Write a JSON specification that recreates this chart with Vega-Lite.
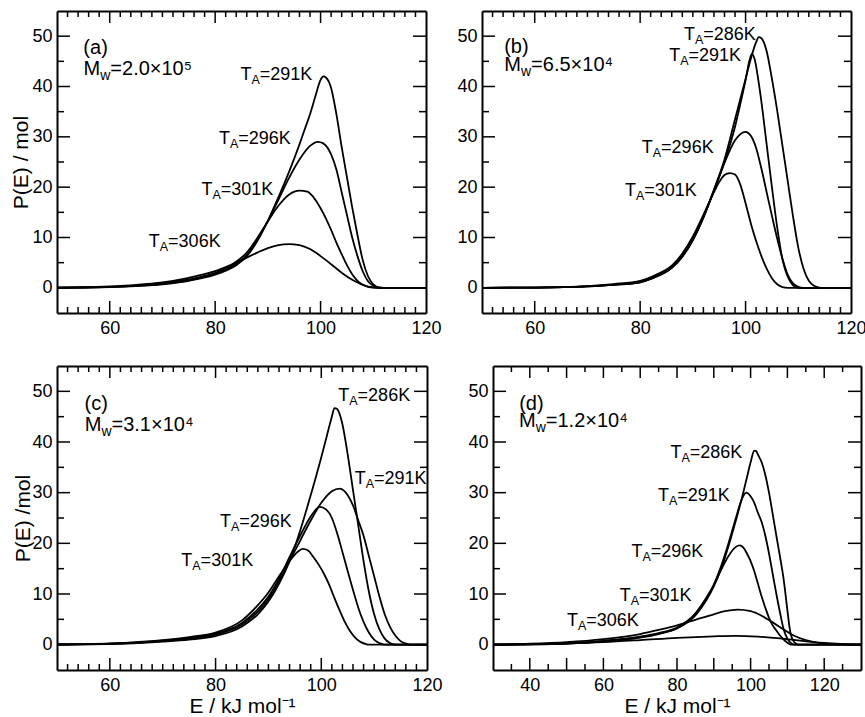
{
"$schema": "https://vega.github.io/schema/vega-lite/v6.json",
"padding": {"left": 10, "top": 10, "right": 0, "bottom": 0},
"config": {
  "font": "Liberation Sans",
  "view": {"stroke": null},
  "axis": {"domainColor": "black", "domainWidth": 2, "labelColor": "black", "labelFontSize": 18, "labelFont": "Liberation Sans", "titleFont": "Liberation Sans", "titleFontSize": 21, "titleFontWeight": "normal", "titleColor": "black", "grid": false, "ticks": false, "labelOverlap": false, "labelFlush": false, "labelBound": false},
  "tick": {"color": "black", "thickness": 1.5, "opacity": 1},
  "text": {"color": "black", "font": "Liberation Sans"}
},
"datasets": {
"ticks": [
{"ax":"x","s":"std","g":"M","v":60},{"ax":"x","s":"std","g":"M","v":80},{"ax":"x","s":"std","g":"M","v":100},
{"ax":"x","s":"std","g":"m","v":52},{"ax":"x","s":"std","g":"m","v":54},{"ax":"x","s":"std","g":"m","v":56},{"ax":"x","s":"std","g":"m","v":58},{"ax":"x","s":"std","g":"m","v":62},{"ax":"x","s":"std","g":"m","v":64},{"ax":"x","s":"std","g":"m","v":66},{"ax":"x","s":"std","g":"m","v":68},{"ax":"x","s":"std","g":"m","v":70},{"ax":"x","s":"std","g":"m","v":72},{"ax":"x","s":"std","g":"m","v":74},{"ax":"x","s":"std","g":"m","v":76},{"ax":"x","s":"std","g":"m","v":78},{"ax":"x","s":"std","g":"m","v":82},{"ax":"x","s":"std","g":"m","v":84},{"ax":"x","s":"std","g":"m","v":86},{"ax":"x","s":"std","g":"m","v":88},{"ax":"x","s":"std","g":"m","v":90},{"ax":"x","s":"std","g":"m","v":92},{"ax":"x","s":"std","g":"m","v":94},{"ax":"x","s":"std","g":"m","v":96},{"ax":"x","s":"std","g":"m","v":98},{"ax":"x","s":"std","g":"m","v":102},{"ax":"x","s":"std","g":"m","v":104},{"ax":"x","s":"std","g":"m","v":106},{"ax":"x","s":"std","g":"m","v":108},{"ax":"x","s":"std","g":"m","v":110},{"ax":"x","s":"std","g":"m","v":112},{"ax":"x","s":"std","g":"m","v":114},{"ax":"x","s":"std","g":"m","v":116},{"ax":"x","s":"std","g":"m","v":118},
{"ax":"x","s":"d","g":"M","v":40},{"ax":"x","s":"d","g":"M","v":50},{"ax":"x","s":"d","g":"M","v":60},{"ax":"x","s":"d","g":"M","v":70},{"ax":"x","s":"d","g":"M","v":80},{"ax":"x","s":"d","g":"M","v":90},{"ax":"x","s":"d","g":"M","v":100},{"ax":"x","s":"d","g":"M","v":110},{"ax":"x","s":"d","g":"M","v":120},
{"ax":"x","s":"d","g":"m","v":35},{"ax":"x","s":"d","g":"m","v":45},{"ax":"x","s":"d","g":"m","v":55},{"ax":"x","s":"d","g":"m","v":65},{"ax":"x","s":"d","g":"m","v":75},{"ax":"x","s":"d","g":"m","v":85},{"ax":"x","s":"d","g":"m","v":95},{"ax":"x","s":"d","g":"m","v":105},{"ax":"x","s":"d","g":"m","v":115},{"ax":"x","s":"d","g":"m","v":125},
{"ax":"y","s":"all","g":"M","v":0},{"ax":"y","s":"all","g":"M","v":10},{"ax":"y","s":"all","g":"M","v":20},{"ax":"y","s":"all","g":"M","v":30},{"ax":"y","s":"all","g":"M","v":40},{"ax":"y","s":"all","g":"M","v":50},
{"ax":"y","s":"all","g":"m","v":5},{"ax":"y","s":"all","g":"m","v":15},{"ax":"y","s":"all","g":"m","v":25},{"ax":"y","s":"all","g":"m","v":35},{"ax":"y","s":"all","g":"m","v":45}
],
"curves": [
{"p":"a","t":"291","E":50,"P":0.02},{"p":"a","t":"291","E":55,"P":0.06},{"p":"a","t":"291","E":60,"P":0.15},{"p":"a","t":"291","E":65,"P":0.35},{"p":"a","t":"291","E":70,"P":0.7},{"p":"a","t":"291","E":75,"P":1.4},{"p":"a","t":"291","E":80,"P":2.6},{"p":"a","t":"291","E":82,"P":3.4},{"p":"a","t":"291","E":84,"P":4.5},{"p":"a","t":"291","E":86,"P":6.3},{"p":"a","t":"291","E":88,"P":9.3},{"p":"a","t":"291","E":90,"P":13.3},{"p":"a","t":"291","E":92,"P":18},{"p":"a","t":"291","E":94,"P":23},{"p":"a","t":"291","E":96,"P":28.5},{"p":"a","t":"291","E":97,"P":31.5},{"p":"a","t":"291","E":98,"P":34.5},{"p":"a","t":"291","E":99,"P":38},{"p":"a","t":"291","E":100,"P":41.3},{"p":"a","t":"291","E":100.5,"P":42},{"p":"a","t":"291","E":101,"P":41.8},{"p":"a","t":"291","E":102,"P":39.7},{"p":"a","t":"291","E":103,"P":34.5},{"p":"a","t":"291","E":104,"P":28},{"p":"a","t":"291","E":105,"P":22},{"p":"a","t":"291","E":106,"P":16},{"p":"a","t":"291","E":107,"P":10.5},{"p":"a","t":"291","E":108,"P":5.5},{"p":"a","t":"291","E":109,"P":2.3},{"p":"a","t":"291","E":110,"P":0.7},{"p":"a","t":"291","E":111,"P":0.1},{"p":"a","t":"291","E":112,"P":0},{"p":"a","t":"291","E":120,"P":0},
{"p":"a","t":"296","E":50,"P":0.03},{"p":"a","t":"296","E":55,"P":0.07},{"p":"a","t":"296","E":60,"P":0.18},{"p":"a","t":"296","E":65,"P":0.4},{"p":"a","t":"296","E":70,"P":0.8},{"p":"a","t":"296","E":75,"P":1.5},{"p":"a","t":"296","E":80,"P":2.8},{"p":"a","t":"296","E":82,"P":3.6},{"p":"a","t":"296","E":84,"P":4.8},{"p":"a","t":"296","E":86,"P":6.5},{"p":"a","t":"296","E":88,"P":9.6},{"p":"a","t":"296","E":90,"P":13.3},{"p":"a","t":"296","E":92,"P":17.5},{"p":"a","t":"296","E":94,"P":21.8},{"p":"a","t":"296","E":96,"P":25.5},{"p":"a","t":"296","E":98,"P":28.2},{"p":"a","t":"296","E":99.5,"P":29},{"p":"a","t":"296","E":100.5,"P":28.7},{"p":"a","t":"296","E":102,"P":26.5},{"p":"a","t":"296","E":103,"P":23.5},{"p":"a","t":"296","E":104,"P":19},{"p":"a","t":"296","E":105,"P":14.5},{"p":"a","t":"296","E":106,"P":10},{"p":"a","t":"296","E":107,"P":6.3},{"p":"a","t":"296","E":108,"P":3.3},{"p":"a","t":"296","E":109,"P":1.3},{"p":"a","t":"296","E":110,"P":0.4},{"p":"a","t":"296","E":111,"P":0.05},{"p":"a","t":"296","E":112,"P":0},{"p":"a","t":"296","E":120,"P":0},
{"p":"a","t":"301","E":50,"P":0.03},{"p":"a","t":"301","E":55,"P":0.08},{"p":"a","t":"301","E":60,"P":0.2},{"p":"a","t":"301","E":65,"P":0.45},{"p":"a","t":"301","E":70,"P":0.9},{"p":"a","t":"301","E":75,"P":1.7},{"p":"a","t":"301","E":80,"P":3.0},{"p":"a","t":"301","E":82,"P":3.9},{"p":"a","t":"301","E":84,"P":5.2},{"p":"a","t":"301","E":86,"P":7},{"p":"a","t":"301","E":88,"P":9.9},{"p":"a","t":"301","E":90,"P":13.2},{"p":"a","t":"301","E":92,"P":16.3},{"p":"a","t":"301","E":94,"P":18.5},{"p":"a","t":"301","E":96,"P":19.3},{"p":"a","t":"301","E":97.5,"P":19.1},{"p":"a","t":"301","E":99,"P":17.5},{"p":"a","t":"301","E":100,"P":15.8},{"p":"a","t":"301","E":101,"P":13.8},{"p":"a","t":"301","E":102,"P":11.5},{"p":"a","t":"301","E":103,"P":9},{"p":"a","t":"301","E":104,"P":6.7},{"p":"a","t":"301","E":105,"P":4.5},{"p":"a","t":"301","E":106,"P":2.7},{"p":"a","t":"301","E":107,"P":1.4},{"p":"a","t":"301","E":108,"P":0.6},{"p":"a","t":"301","E":109,"P":0.2},{"p":"a","t":"301","E":110,"P":0.03},{"p":"a","t":"301","E":111,"P":0},{"p":"a","t":"301","E":120,"P":0},
{"p":"a","t":"306","E":50,"P":0.05},{"p":"a","t":"306","E":55,"P":0.12},{"p":"a","t":"306","E":60,"P":0.3},{"p":"a","t":"306","E":65,"P":0.6},{"p":"a","t":"306","E":70,"P":1.1},{"p":"a","t":"306","E":75,"P":2},{"p":"a","t":"306","E":80,"P":3.3},{"p":"a","t":"306","E":82,"P":4.1},{"p":"a","t":"306","E":84,"P":5},{"p":"a","t":"306","E":86,"P":6},{"p":"a","t":"306","E":88,"P":7},{"p":"a","t":"306","E":90,"P":7.9},{"p":"a","t":"306","E":92,"P":8.5},{"p":"a","t":"306","E":94,"P":8.7},{"p":"a","t":"306","E":96,"P":8.5},{"p":"a","t":"306","E":98,"P":7.7},{"p":"a","t":"306","E":100,"P":6.3},{"p":"a","t":"306","E":102,"P":4.7},{"p":"a","t":"306","E":104,"P":3},{"p":"a","t":"306","E":106,"P":1.6},{"p":"a","t":"306","E":108,"P":0.6},{"p":"a","t":"306","E":110,"P":0.1},{"p":"a","t":"306","E":112,"P":0},{"p":"a","t":"306","E":120,"P":0},
{"p":"b","t":"286","E":50,"P":0},{"p":"b","t":"286","E":60,"P":0.05},{"p":"b","t":"286","E":70,"P":0.3},{"p":"b","t":"286","E":75,"P":0.6},{"p":"b","t":"286","E":80,"P":1.1},{"p":"b","t":"286","E":83,"P":2.2},{"p":"b","t":"286","E":86,"P":4},{"p":"b","t":"286","E":88,"P":6.2},{"p":"b","t":"286","E":90,"P":9.5},{"p":"b","t":"286","E":92,"P":14},{"p":"b","t":"286","E":94,"P":19.5},{"p":"b","t":"286","E":96,"P":25.5},{"p":"b","t":"286","E":98,"P":33.5},{"p":"b","t":"286","E":99,"P":37.5},{"p":"b","t":"286","E":100,"P":41.5},{"p":"b","t":"286","E":101,"P":45.5},{"p":"b","t":"286","E":102,"P":48.8},{"p":"b","t":"286","E":102.5,"P":49.8},{"p":"b","t":"286","E":103,"P":49.6},{"p":"b","t":"286","E":104,"P":47},{"p":"b","t":"286","E":105,"P":41.5},{"p":"b","t":"286","E":106,"P":35.2},{"p":"b","t":"286","E":107,"P":28.2},{"p":"b","t":"286","E":108,"P":21.2},{"p":"b","t":"286","E":109,"P":14.2},{"p":"b","t":"286","E":110,"P":8},{"p":"b","t":"286","E":111,"P":3.8},{"p":"b","t":"286","E":112,"P":1.4},{"p":"b","t":"286","E":113,"P":0.4},{"p":"b","t":"286","E":114,"P":0.05},{"p":"b","t":"286","E":115,"P":0},{"p":"b","t":"286","E":120,"P":0},
{"p":"b","t":"291","E":50,"P":0},{"p":"b","t":"291","E":60,"P":0.05},{"p":"b","t":"291","E":70,"P":0.3},{"p":"b","t":"291","E":75,"P":0.6},{"p":"b","t":"291","E":80,"P":1.1},{"p":"b","t":"291","E":83,"P":2.2},{"p":"b","t":"291","E":86,"P":4},{"p":"b","t":"291","E":88,"P":6.2},{"p":"b","t":"291","E":90,"P":9.5},{"p":"b","t":"291","E":92,"P":14},{"p":"b","t":"291","E":94,"P":19.3},{"p":"b","t":"291","E":96,"P":25},{"p":"b","t":"291","E":98,"P":32},{"p":"b","t":"291","E":99,"P":36.5},{"p":"b","t":"291","E":100,"P":41.3},{"p":"b","t":"291","E":100.7,"P":45},{"p":"b","t":"291","E":101.2,"P":46.5},{"p":"b","t":"291","E":101.7,"P":45.5},{"p":"b","t":"291","E":102.5,"P":40.7},{"p":"b","t":"291","E":103,"P":37},{"p":"b","t":"291","E":104,"P":28.5},{"p":"b","t":"291","E":105,"P":20},{"p":"b","t":"291","E":106,"P":12},{"p":"b","t":"291","E":107,"P":5.6},{"p":"b","t":"291","E":108,"P":2.2},{"p":"b","t":"291","E":109,"P":0.5},{"p":"b","t":"291","E":110,"P":0},{"p":"b","t":"291","E":120,"P":0},
{"p":"b","t":"296","E":50,"P":0},{"p":"b","t":"296","E":60,"P":0.05},{"p":"b","t":"296","E":70,"P":0.3},{"p":"b","t":"296","E":75,"P":0.65},{"p":"b","t":"296","E":80,"P":1.2},{"p":"b","t":"296","E":83,"P":2.3},{"p":"b","t":"296","E":86,"P":4.1},{"p":"b","t":"296","E":88,"P":6.3},{"p":"b","t":"296","E":90,"P":9.6},{"p":"b","t":"296","E":92,"P":14},{"p":"b","t":"296","E":94,"P":19.3},{"p":"b","t":"296","E":96,"P":24.8},{"p":"b","t":"296","E":98,"P":29.3},{"p":"b","t":"296","E":100,"P":31},{"p":"b","t":"296","E":101,"P":30.2},{"p":"b","t":"296","E":102,"P":27.8},{"p":"b","t":"296","E":103,"P":23.7},{"p":"b","t":"296","E":104,"P":19},{"p":"b","t":"296","E":105,"P":14.3},{"p":"b","t":"296","E":106,"P":9.8},{"p":"b","t":"296","E":107,"P":5.8},{"p":"b","t":"296","E":108,"P":2.6},{"p":"b","t":"296","E":109,"P":0.9},{"p":"b","t":"296","E":110,"P":0.2},{"p":"b","t":"296","E":111,"P":0},{"p":"b","t":"296","E":120,"P":0},
{"p":"b","t":"301","E":50,"P":0},{"p":"b","t":"301","E":60,"P":0.06},{"p":"b","t":"301","E":70,"P":0.35},{"p":"b","t":"301","E":75,"P":0.75},{"p":"b","t":"301","E":80,"P":1.4},{"p":"b","t":"301","E":83,"P":2.6},{"p":"b","t":"301","E":86,"P":4.4},{"p":"b","t":"301","E":88,"P":6.8},{"p":"b","t":"301","E":90,"P":10.2},{"p":"b","t":"301","E":92,"P":14.5},{"p":"b","t":"301","E":94,"P":19},{"p":"b","t":"301","E":95,"P":21},{"p":"b","t":"301","E":96,"P":22.4},{"p":"b","t":"301","E":97,"P":22.8},{"p":"b","t":"301","E":98,"P":22.5},{"p":"b","t":"301","E":99,"P":20.5},{"p":"b","t":"301","E":100,"P":16.8},{"p":"b","t":"301","E":101,"P":12.8},{"p":"b","t":"301","E":102,"P":9.3},{"p":"b","t":"301","E":103,"P":6.3},{"p":"b","t":"301","E":104,"P":3.8},{"p":"b","t":"301","E":105,"P":1.9},{"p":"b","t":"301","E":106,"P":0.7},{"p":"b","t":"301","E":107,"P":0.15},{"p":"b","t":"301","E":108,"P":0},{"p":"b","t":"301","E":120,"P":0},
{"p":"c","t":"286","E":50,"P":0.02},{"p":"c","t":"286","E":60,"P":0.1},{"p":"c","t":"286","E":70,"P":0.6},{"p":"c","t":"286","E":75,"P":1},{"p":"c","t":"286","E":80,"P":1.7},{"p":"c","t":"286","E":85,"P":3.6},{"p":"c","t":"286","E":88,"P":6},{"p":"c","t":"286","E":90,"P":8.5},{"p":"c","t":"286","E":92,"P":12},{"p":"c","t":"286","E":94,"P":16.5},{"p":"c","t":"286","E":96,"P":22.5},{"p":"c","t":"286","E":98,"P":29.5},{"p":"c","t":"286","E":100,"P":37},{"p":"c","t":"286","E":101,"P":41},{"p":"c","t":"286","E":102,"P":45},{"p":"c","t":"286","E":102.5,"P":46.7},{"p":"c","t":"286","E":103,"P":46.5},{"p":"c","t":"286","E":104,"P":43.5},{"p":"c","t":"286","E":105,"P":37.5},{"p":"c","t":"286","E":106,"P":30.5},{"p":"c","t":"286","E":107,"P":23.5},{"p":"c","t":"286","E":108,"P":16.5},{"p":"c","t":"286","E":109,"P":10.5},{"p":"c","t":"286","E":110,"P":6},{"p":"c","t":"286","E":111,"P":3},{"p":"c","t":"286","E":112,"P":1.2},{"p":"c","t":"286","E":113,"P":0.3},{"p":"c","t":"286","E":114,"P":0},{"p":"c","t":"286","E":120,"P":0},
{"p":"c","t":"291","E":50,"P":0.03},{"p":"c","t":"291","E":60,"P":0.15},{"p":"c","t":"291","E":70,"P":0.7},{"p":"c","t":"291","E":75,"P":1.2},{"p":"c","t":"291","E":80,"P":2},{"p":"c","t":"291","E":85,"P":4},{"p":"c","t":"291","E":88,"P":6.5},{"p":"c","t":"291","E":90,"P":9},{"p":"c","t":"291","E":92,"P":12.5},{"p":"c","t":"291","E":94,"P":16.5},{"p":"c","t":"291","E":96,"P":20.5},{"p":"c","t":"291","E":98,"P":24.5},{"p":"c","t":"291","E":100,"P":28},{"p":"c","t":"291","E":102,"P":30.3},{"p":"c","t":"291","E":103.5,"P":30.8},{"p":"c","t":"291","E":105,"P":29.5},{"p":"c","t":"291","E":106,"P":27.5},{"p":"c","t":"291","E":107,"P":24.5},{"p":"c","t":"291","E":108,"P":21.5},{"p":"c","t":"291","E":109,"P":17.5},{"p":"c","t":"291","E":110,"P":13.5},{"p":"c","t":"291","E":111,"P":9.5},{"p":"c","t":"291","E":112,"P":6},{"p":"c","t":"291","E":113,"P":3.5},{"p":"c","t":"291","E":114,"P":1.8},{"p":"c","t":"291","E":115,"P":0.7},{"p":"c","t":"291","E":116,"P":0.2},{"p":"c","t":"291","E":117,"P":0},{"p":"c","t":"291","E":120,"P":0},
{"p":"c","t":"296","E":50,"P":0.04},{"p":"c","t":"296","E":60,"P":0.2},{"p":"c","t":"296","E":70,"P":0.8},{"p":"c","t":"296","E":75,"P":1.3},{"p":"c","t":"296","E":80,"P":2.2},{"p":"c","t":"296","E":85,"P":4.3},{"p":"c","t":"296","E":88,"P":7},{"p":"c","t":"296","E":90,"P":9.5},{"p":"c","t":"296","E":92,"P":13},{"p":"c","t":"296","E":94,"P":17.3},{"p":"c","t":"296","E":96,"P":21.5},{"p":"c","t":"296","E":98,"P":25.3},{"p":"c","t":"296","E":99.7,"P":27.2},{"p":"c","t":"296","E":101,"P":26.6},{"p":"c","t":"296","E":102,"P":25},{"p":"c","t":"296","E":103,"P":22},{"p":"c","t":"296","E":104,"P":18.3},{"p":"c","t":"296","E":105,"P":14.5},{"p":"c","t":"296","E":106,"P":10.8},{"p":"c","t":"296","E":107,"P":7.3},{"p":"c","t":"296","E":108,"P":4.5},{"p":"c","t":"296","E":109,"P":2.4},{"p":"c","t":"296","E":110,"P":1},{"p":"c","t":"296","E":111,"P":0.3},{"p":"c","t":"296","E":112,"P":0},{"p":"c","t":"296","E":120,"P":0},
{"p":"c","t":"301","E":50,"P":0.05},{"p":"c","t":"301","E":60,"P":0.25},{"p":"c","t":"301","E":70,"P":0.9},{"p":"c","t":"301","E":75,"P":1.5},{"p":"c","t":"301","E":80,"P":2.4},{"p":"c","t":"301","E":85,"P":4.8},{"p":"c","t":"301","E":88,"P":7.8},{"p":"c","t":"301","E":90,"P":10.3},{"p":"c","t":"301","E":92,"P":13.5},{"p":"c","t":"301","E":94,"P":16.5},{"p":"c","t":"301","E":95.5,"P":18.3},{"p":"c","t":"301","E":96.5,"P":18.9},{"p":"c","t":"301","E":97.5,"P":18.6},{"p":"c","t":"301","E":98.5,"P":17.3},{"p":"c","t":"301","E":99.5,"P":15.8},{"p":"c","t":"301","E":100.5,"P":14},{"p":"c","t":"301","E":101.5,"P":11.8},{"p":"c","t":"301","E":102.5,"P":9.2},{"p":"c","t":"301","E":103.5,"P":6.7},{"p":"c","t":"301","E":104.5,"P":4.4},{"p":"c","t":"301","E":105.5,"P":2.6},{"p":"c","t":"301","E":106.5,"P":1.3},{"p":"c","t":"301","E":107.5,"P":0.5},{"p":"c","t":"301","E":108.5,"P":0.1},{"p":"c","t":"301","E":109,"P":0},{"p":"c","t":"301","E":120,"P":0},
{"p":"d","t":"286","E":30,"P":0},{"p":"d","t":"286","E":40,"P":0.05},{"p":"d","t":"286","E":50,"P":0.2},{"p":"d","t":"286","E":60,"P":0.6},{"p":"d","t":"286","E":70,"P":1.4},{"p":"d","t":"286","E":75,"P":2.1},{"p":"d","t":"286","E":80,"P":3.2},{"p":"d","t":"286","E":85,"P":5.8},{"p":"d","t":"286","E":88,"P":8.8},{"p":"d","t":"286","E":90,"P":11.5},{"p":"d","t":"286","E":92,"P":15},{"p":"d","t":"286","E":94,"P":19.5},{"p":"d","t":"286","E":96,"P":24.5},{"p":"d","t":"286","E":98,"P":30},{"p":"d","t":"286","E":99,"P":33},{"p":"d","t":"286","E":100,"P":36},{"p":"d","t":"286","E":101,"P":38.3},{"p":"d","t":"286","E":101.5,"P":38.2},{"p":"d","t":"286","E":102,"P":37.5},{"p":"d","t":"286","E":103,"P":36},{"p":"d","t":"286","E":104,"P":33.5},{"p":"d","t":"286","E":105,"P":30},{"p":"d","t":"286","E":106,"P":25.8},{"p":"d","t":"286","E":107,"P":21.5},{"p":"d","t":"286","E":108,"P":17.3},{"p":"d","t":"286","E":109,"P":12.8},{"p":"d","t":"286","E":110,"P":6.8},{"p":"d","t":"286","E":110.5,"P":3.8},{"p":"d","t":"286","E":111,"P":1.8},{"p":"d","t":"286","E":112,"P":0.4},{"p":"d","t":"286","E":113,"P":0},{"p":"d","t":"286","E":130,"P":0},
{"p":"d","t":"291","E":30,"P":0},{"p":"d","t":"291","E":40,"P":0.06},{"p":"d","t":"291","E":50,"P":0.22},{"p":"d","t":"291","E":60,"P":0.7},{"p":"d","t":"291","E":70,"P":1.5},{"p":"d","t":"291","E":75,"P":2.2},{"p":"d","t":"291","E":80,"P":3.3},{"p":"d","t":"291","E":85,"P":6},{"p":"d","t":"291","E":88,"P":9},{"p":"d","t":"291","E":90,"P":11.8},{"p":"d","t":"291","E":92,"P":15.5},{"p":"d","t":"291","E":94,"P":20},{"p":"d","t":"291","E":96,"P":25},{"p":"d","t":"291","E":97.5,"P":28.5},{"p":"d","t":"291","E":98.8,"P":30},{"p":"d","t":"291","E":100,"P":29.3},{"p":"d","t":"291","E":101,"P":28},{"p":"d","t":"291","E":102,"P":26},{"p":"d","t":"291","E":103,"P":24.2},{"p":"d","t":"291","E":104,"P":21.5},{"p":"d","t":"291","E":105,"P":18},{"p":"d","t":"291","E":106,"P":14},{"p":"d","t":"291","E":107,"P":10},{"p":"d","t":"291","E":108,"P":6.3},{"p":"d","t":"291","E":109,"P":3},{"p":"d","t":"291","E":110,"P":1.2},{"p":"d","t":"291","E":111,"P":0.3},{"p":"d","t":"291","E":112,"P":0},{"p":"d","t":"291","E":130,"P":0},
{"p":"d","t":"296","E":30,"P":0},{"p":"d","t":"296","E":40,"P":0.07},{"p":"d","t":"296","E":50,"P":0.25},{"p":"d","t":"296","E":60,"P":0.75},{"p":"d","t":"296","E":70,"P":1.6},{"p":"d","t":"296","E":75,"P":2.3},{"p":"d","t":"296","E":80,"P":3.4},{"p":"d","t":"296","E":85,"P":6.2},{"p":"d","t":"296","E":88,"P":9.3},{"p":"d","t":"296","E":90,"P":11.8},{"p":"d","t":"296","E":92,"P":14.8},{"p":"d","t":"296","E":94,"P":17.5},{"p":"d","t":"296","E":96,"P":19.3},{"p":"d","t":"296","E":97,"P":19.6},{"p":"d","t":"296","E":98,"P":19.2},{"p":"d","t":"296","E":99,"P":18},{"p":"d","t":"296","E":100,"P":16.5},{"p":"d","t":"296","E":101,"P":14.5},{"p":"d","t":"296","E":102,"P":12},{"p":"d","t":"296","E":103,"P":9.5},{"p":"d","t":"296","E":104,"P":7.3},{"p":"d","t":"296","E":105,"P":5.3},{"p":"d","t":"296","E":106,"P":3.8},{"p":"d","t":"296","E":107,"P":2.8},{"p":"d","t":"296","E":108,"P":1.8},{"p":"d","t":"296","E":109,"P":1},{"p":"d","t":"296","E":110,"P":0.4},{"p":"d","t":"296","E":111,"P":0},{"p":"d","t":"296","E":130,"P":0},
{"p":"d","t":"301","E":30,"P":0.05},{"p":"d","t":"301","E":40,"P":0.2},{"p":"d","t":"301","E":50,"P":0.5},{"p":"d","t":"301","E":60,"P":1.1},{"p":"d","t":"301","E":70,"P":2.1},{"p":"d","t":"301","E":75,"P":2.9},{"p":"d","t":"301","E":80,"P":3.8},{"p":"d","t":"301","E":85,"P":4.9},{"p":"d","t":"301","E":90,"P":6},{"p":"d","t":"301","E":93,"P":6.6},{"p":"d","t":"301","E":96.5,"P":6.9},{"p":"d","t":"301","E":100,"P":6.6},{"p":"d","t":"301","E":103,"P":5.7},{"p":"d","t":"301","E":106,"P":4.4},{"p":"d","t":"301","E":109,"P":3},{"p":"d","t":"301","E":112,"P":1.7},{"p":"d","t":"301","E":115,"P":0.9},{"p":"d","t":"301","E":118,"P":0.4},{"p":"d","t":"301","E":122,"P":0.1},{"p":"d","t":"301","E":126,"P":0},{"p":"d","t":"301","E":130,"P":0},
{"p":"d","t":"306","E":30,"P":0},{"p":"d","t":"306","E":40,"P":0.1},{"p":"d","t":"306","E":50,"P":0.25},{"p":"d","t":"306","E":60,"P":0.5},{"p":"d","t":"306","E":70,"P":0.9},{"p":"d","t":"306","E":80,"P":1.35},{"p":"d","t":"306","E":90,"P":1.65},{"p":"d","t":"306","E":96,"P":1.75},{"p":"d","t":"306","E":102,"P":1.6},{"p":"d","t":"306","E":108,"P":1.25},{"p":"d","t":"306","E":114,"P":0.75},{"p":"d","t":"306","E":120,"P":0.35},{"p":"d","t":"306","E":126,"P":0.1},{"p":"d","t":"306","E":130,"P":0.03}
],
"labels": [
{"p":"a","k":"T","x":86.9,"y":41.2,"m":"T","s":"A","r":"=291K"},
{"p":"a","k":"T","x":82.8,"y":28.6,"m":"T","s":"A","r":"=296K"},
{"p":"a","k":"T","x":79.5,"y":18.5,"m":"T","s":"A","r":"=301K"},
{"p":"a","k":"T","x":69.5,"y":8.1,"m":"T","s":"A","r":"=306K"},
{"p":"a","k":"id","x":55,"y":46.4,"m":"(a)","s":"","r":""},
{"p":"a","k":"M","x":58.2,"y":42.2,"m":"M","s":"w","r":"=2.0×10⁵"},
{"p":"b","k":"T","x":90.4,"y":49.2,"m":"T","s":"A","r":"=286K"},
{"p":"b","k":"T","x":87.6,"y":45,"m":"T","s":"A","r":"=291K"},
{"p":"b","k":"T","x":82.4,"y":26.8,"m":"T","s":"A","r":"=296K"},
{"p":"b","k":"T","x":79.2,"y":18.2,"m":"T","s":"A","r":"=301K"},
{"p":"b","k":"id","x":54.2,"y":46.7,"m":"(b)","s":"","r":""},
{"p":"b","k":"M","x":57.4,"y":43,"m":"M","s":"w","r":"=6.5×10⁴"},
{"p":"c","k":"T","x":105.3,"y":48,"m":"T","s":"A","r":"=286K"},
{"p":"c","k":"T","x":108.4,"y":31.8,"m":"T","s":"A","r":"=291K"},
{"p":"c","k":"T","x":82.9,"y":23.2,"m":"T","s":"A","r":"=296K"},
{"p":"c","k":"T","x":75.6,"y":15.5,"m":"T","s":"A","r":"=301K"},
{"p":"c","k":"id","x":55.2,"y":46.4,"m":"(c)","s":"","r":""},
{"p":"c","k":"M","x":58.4,"y":42.1,"m":"M","s":"w","r":"=3.1×10⁴"},
{"p":"d","k":"T","x":81.2,"y":36.9,"m":"T","s":"A","r":"=286K"},
{"p":"d","k":"T","x":77.8,"y":28.3,"m":"T","s":"A","r":"=291K"},
{"p":"d","k":"T","x":70.6,"y":17.3,"m":"T","s":"A","r":"=296K"},
{"p":"d","k":"T","x":67.4,"y":8.7,"m":"T","s":"A","r":"=301K"},
{"p":"d","k":"T","x":53.1,"y":3.6,"m":"T","s":"A","r":"=306K"},
{"p":"d","k":"id","x":37.1,"y":46.4,"m":"(d)","s":"","r":""},
{"p":"d","k":"M","x":41.6,"y":43,"m":"M","s":"w","r":"=1.2×10⁴"}
]
},
"spacing": 28,
"vconcat": [
{"hconcat": [
{"width": 369, "height": 302, "layer": [
 {"data": {"name": "curves"}, "transform": [{"filter": "datum.p === 'a'"}],
  "mark": {"type": "line", "color": "black", "strokeWidth": 1.8, "interpolate": "monotone", "clip": true},
  "encoding": {
   "x": {"field": "E", "type": "quantitative", "scale": {"domain": [50, 120], "nice": false, "zero": false}, "axis": {"orient": "bottom", "values": [60,80,100,120], "labelPadding": 6, "title": null}},
   "y": {"field": "P", "type": "quantitative", "scale": {"domain": [-5, 55], "nice": false, "zero": false}, "axis": {"orient": "left", "values": [0,10,20,30,40,50], "labelPadding": 5, "title": "P(E) / mol", "titlePadding": 0.5}},
   "detail": {"field": "t"}}},
 {"data": {"name": "labels"}, "transform": [{"filter": "datum.p === 'a' && datum.k === 'T'"}],
  "mark": {"type": "text", "align": "right", "baseline": "alphabetic", "fontSize": 18},
  "encoding": {
   "x": {"field": "x", "type": "quantitative", "axis": {"orient": "top", "labels": false, "title": null}},
   "y": {"field": "y", "type": "quantitative", "axis": {"orient": "right", "labels": false, "title": null}},
   "text": {"field": "m"}}},
 {"data": {"name": "labels"}, "transform": [{"filter": "datum.p === 'a' && datum.k === 'T'"}], "mark": {"type": "text", "align": "left", "baseline": "alphabetic", "fontSize": 12.5, "dy": 4},
  "encoding": {"x": {"field": "x", "type": "quantitative", "axis": null}, "y": {"field": "y", "type": "quantitative", "axis": null}, "text": {"field": "s"}}},
 {"data": {"name": "labels"}, "transform": [{"filter": "datum.p === 'a' && datum.k === 'T'"}], "mark": {"type": "text", "align": "left", "baseline": "alphabetic", "fontSize": 18, "dx": 8.3},
  "encoding": {"x": {"field": "x", "type": "quantitative", "axis": null}, "y": {"field": "y", "type": "quantitative", "axis": null}, "text": {"field": "r"}}},
 {"data": {"name": "labels"}, "transform": [{"filter": "datum.p === 'a' && datum.k === 'M'"}], "mark": {"type": "text", "align": "right", "baseline": "alphabetic", "fontSize": 20},
  "encoding": {"x": {"field": "x", "type": "quantitative", "axis": null}, "y": {"field": "y", "type": "quantitative", "axis": null}, "text": {"field": "m"}}},
 {"data": {"name": "labels"}, "transform": [{"filter": "datum.p === 'a' && datum.k === 'M'"}], "mark": {"type": "text", "align": "left", "baseline": "alphabetic", "fontSize": 14, "dy": 5},
  "encoding": {"x": {"field": "x", "type": "quantitative", "axis": null}, "y": {"field": "y", "type": "quantitative", "axis": null}, "text": {"field": "s"}}},
 {"data": {"name": "labels"}, "transform": [{"filter": "datum.p === 'a' && datum.k === 'M'"}], "mark": {"type": "text", "align": "left", "baseline": "alphabetic", "fontSize": 20, "dx": 10.1},
  "encoding": {"x": {"field": "x", "type": "quantitative", "axis": null}, "y": {"field": "y", "type": "quantitative", "axis": null}, "text": {"field": "r"}}},
 {"data": {"name": "labels"}, "transform": [{"filter": "datum.p === 'a' && datum.k === 'id'"}], "mark": {"type": "text", "align": "left", "baseline": "alphabetic", "fontSize": 20},
  "encoding": {"x": {"field": "x", "type": "quantitative", "axis": null}, "y": {"field": "y", "type": "quantitative", "axis": null}, "text": {"field": "m"}}},
 {"data": {"name": "ticks"}, "transform": [{"filter": "datum.ax === 'x' && datum.s === 'std' && datum.g === 'M'"}], "mark": {"type": "tick", "orient": "vertical", "size": 12},
  "encoding": {"x": {"field": "v", "type": "quantitative", "axis": null}, "y": {"datum": -3.81, "type": "quantitative", "axis": null}}},
 {"data": {"name": "ticks"}, "transform": [{"filter": "datum.ax === 'x' && datum.s === 'std' && datum.g === 'm'"}], "mark": {"type": "tick", "orient": "vertical", "size": 6},
  "encoding": {"x": {"field": "v", "type": "quantitative", "axis": null}, "y": {"datum": -4.4, "type": "quantitative", "axis": null}}},
 {"data": {"name": "ticks"}, "transform": [{"filter": "datum.ax === 'x' && datum.s === 'std' && datum.g === 'M'"}], "mark": {"type": "tick", "orient": "vertical", "size": 12},
  "encoding": {"x": {"field": "v", "type": "quantitative", "axis": null}, "y": {"datum": 53.81, "type": "quantitative", "axis": null}}},
 {"data": {"name": "ticks"}, "transform": [{"filter": "datum.ax === 'x' && datum.s === 'std' && datum.g === 'm'"}], "mark": {"type": "tick", "orient": "vertical", "size": 6},
  "encoding": {"x": {"field": "v", "type": "quantitative", "axis": null}, "y": {"datum": 54.4, "type": "quantitative", "axis": null}}},
 {"data": {"name": "ticks"}, "transform": [{"filter": "datum.ax === 'y' && datum.g === 'M'"}], "mark": {"type": "tick", "orient": "horizontal", "size": 13},
  "encoding": {"y": {"field": "v", "type": "quantitative", "axis": null}, "x": {"datum": 51.23, "type": "quantitative", "axis": null}}},
 {"data": {"name": "ticks"}, "transform": [{"filter": "datum.ax === 'y' && datum.g === 'm'"}], "mark": {"type": "tick", "orient": "horizontal", "size": 7},
  "encoding": {"y": {"field": "v", "type": "quantitative", "axis": null}, "x": {"datum": 50.66, "type": "quantitative", "axis": null}}},
 {"data": {"name": "ticks"}, "transform": [{"filter": "datum.ax === 'y' && datum.g === 'M'"}], "mark": {"type": "tick", "orient": "horizontal", "size": 13},
  "encoding": {"y": {"field": "v", "type": "quantitative", "axis": null}, "x": {"datum": 118.77, "type": "quantitative", "axis": null}}},
 {"data": {"name": "ticks"}, "transform": [{"filter": "datum.ax === 'y' && datum.g === 'm'"}], "mark": {"type": "tick", "orient": "horizontal", "size": 7},
  "encoding": {"y": {"field": "v", "type": "quantitative", "axis": null}, "x": {"datum": 119.34, "type": "quantitative", "axis": null}}}
]},
{"width": 369, "height": 302, "layer": [
 {"data": {"name": "curves"}, "transform": [{"filter": "datum.p === 'b'"}],
  "mark": {"type": "line", "color": "black", "strokeWidth": 1.8, "interpolate": "monotone", "clip": true},
  "encoding": {
   "x": {"field": "E", "type": "quantitative", "scale": {"domain": [50, 120], "nice": false, "zero": false}, "axis": {"orient": "bottom", "values": [60,80,100,120], "labelPadding": 6, "title": null}},
   "y": {"field": "P", "type": "quantitative", "scale": {"domain": [-5, 55], "nice": false, "zero": false}, "axis": {"orient": "left", "values": [0,10,20,30,40,50], "labelPadding": 5, "title": null}},
   "detail": {"field": "t"}}},
 {"data": {"name": "labels"}, "transform": [{"filter": "datum.p === 'b' && datum.k === 'T'"}],
  "mark": {"type": "text", "align": "right", "baseline": "alphabetic", "fontSize": 18},
  "encoding": {
   "x": {"field": "x", "type": "quantitative", "axis": {"orient": "top", "labels": false, "title": null}},
   "y": {"field": "y", "type": "quantitative", "axis": {"orient": "right", "labels": false, "title": null}},
   "text": {"field": "m"}}},
 {"data": {"name": "labels"}, "transform": [{"filter": "datum.p === 'b' && datum.k === 'T'"}], "mark": {"type": "text", "align": "left", "baseline": "alphabetic", "fontSize": 12.5, "dy": 4},
  "encoding": {"x": {"field": "x", "type": "quantitative", "axis": null}, "y": {"field": "y", "type": "quantitative", "axis": null}, "text": {"field": "s"}}},
 {"data": {"name": "labels"}, "transform": [{"filter": "datum.p === 'b' && datum.k === 'T'"}], "mark": {"type": "text", "align": "left", "baseline": "alphabetic", "fontSize": 18, "dx": 8.3},
  "encoding": {"x": {"field": "x", "type": "quantitative", "axis": null}, "y": {"field": "y", "type": "quantitative", "axis": null}, "text": {"field": "r"}}},
 {"data": {"name": "labels"}, "transform": [{"filter": "datum.p === 'b' && datum.k === 'M'"}], "mark": {"type": "text", "align": "right", "baseline": "alphabetic", "fontSize": 20},
  "encoding": {"x": {"field": "x", "type": "quantitative", "axis": null}, "y": {"field": "y", "type": "quantitative", "axis": null}, "text": {"field": "m"}}},
 {"data": {"name": "labels"}, "transform": [{"filter": "datum.p === 'b' && datum.k === 'M'"}], "mark": {"type": "text", "align": "left", "baseline": "alphabetic", "fontSize": 14, "dy": 5},
  "encoding": {"x": {"field": "x", "type": "quantitative", "axis": null}, "y": {"field": "y", "type": "quantitative", "axis": null}, "text": {"field": "s"}}},
 {"data": {"name": "labels"}, "transform": [{"filter": "datum.p === 'b' && datum.k === 'M'"}], "mark": {"type": "text", "align": "left", "baseline": "alphabetic", "fontSize": 20, "dx": 10.1},
  "encoding": {"x": {"field": "x", "type": "quantitative", "axis": null}, "y": {"field": "y", "type": "quantitative", "axis": null}, "text": {"field": "r"}}},
 {"data": {"name": "labels"}, "transform": [{"filter": "datum.p === 'b' && datum.k === 'id'"}], "mark": {"type": "text", "align": "left", "baseline": "alphabetic", "fontSize": 20},
  "encoding": {"x": {"field": "x", "type": "quantitative", "axis": null}, "y": {"field": "y", "type": "quantitative", "axis": null}, "text": {"field": "m"}}},
 {"data": {"name": "ticks"}, "transform": [{"filter": "datum.ax === 'x' && datum.s === 'std' && datum.g === 'M'"}], "mark": {"type": "tick", "orient": "vertical", "size": 12},
  "encoding": {"x": {"field": "v", "type": "quantitative", "axis": null}, "y": {"datum": -3.81, "type": "quantitative", "axis": null}}},
 {"data": {"name": "ticks"}, "transform": [{"filter": "datum.ax === 'x' && datum.s === 'std' && datum.g === 'm'"}], "mark": {"type": "tick", "orient": "vertical", "size": 6},
  "encoding": {"x": {"field": "v", "type": "quantitative", "axis": null}, "y": {"datum": -4.4, "type": "quantitative", "axis": null}}},
 {"data": {"name": "ticks"}, "transform": [{"filter": "datum.ax === 'x' && datum.s === 'std' && datum.g === 'M'"}], "mark": {"type": "tick", "orient": "vertical", "size": 12},
  "encoding": {"x": {"field": "v", "type": "quantitative", "axis": null}, "y": {"datum": 53.81, "type": "quantitative", "axis": null}}},
 {"data": {"name": "ticks"}, "transform": [{"filter": "datum.ax === 'x' && datum.s === 'std' && datum.g === 'm'"}], "mark": {"type": "tick", "orient": "vertical", "size": 6},
  "encoding": {"x": {"field": "v", "type": "quantitative", "axis": null}, "y": {"datum": 54.4, "type": "quantitative", "axis": null}}},
 {"data": {"name": "ticks"}, "transform": [{"filter": "datum.ax === 'y' && datum.g === 'M'"}], "mark": {"type": "tick", "orient": "horizontal", "size": 13},
  "encoding": {"y": {"field": "v", "type": "quantitative", "axis": null}, "x": {"datum": 51.23, "type": "quantitative", "axis": null}}},
 {"data": {"name": "ticks"}, "transform": [{"filter": "datum.ax === 'y' && datum.g === 'm'"}], "mark": {"type": "tick", "orient": "horizontal", "size": 7},
  "encoding": {"y": {"field": "v", "type": "quantitative", "axis": null}, "x": {"datum": 50.66, "type": "quantitative", "axis": null}}},
 {"data": {"name": "ticks"}, "transform": [{"filter": "datum.ax === 'y' && datum.g === 'M'"}], "mark": {"type": "tick", "orient": "horizontal", "size": 13},
  "encoding": {"y": {"field": "v", "type": "quantitative", "axis": null}, "x": {"datum": 118.77, "type": "quantitative", "axis": null}}},
 {"data": {"name": "ticks"}, "transform": [{"filter": "datum.ax === 'y' && datum.g === 'm'"}], "mark": {"type": "tick", "orient": "horizontal", "size": 7},
  "encoding": {"y": {"field": "v", "type": "quantitative", "axis": null}, "x": {"datum": 119.34, "type": "quantitative", "axis": null}}}
]}
], "spacing": 56, "bounds": "flush"},
{"hconcat": [
{"width": 370, "height": 304, "layer": [
 {"data": {"name": "curves"}, "transform": [{"filter": "datum.p === 'c'"}],
  "mark": {"type": "line", "color": "black", "strokeWidth": 1.8, "interpolate": "monotone", "clip": true},
  "encoding": {
   "x": {"field": "E", "type": "quantitative", "scale": {"domain": [50, 120], "nice": false, "zero": false}, "axis": {"orient": "bottom", "values": [60,80,100,120], "labelPadding": 6, "title": "E / kJ mol⁻¹", "titlePadding": 1}},
   "y": {"field": "P", "type": "quantitative", "scale": {"domain": [-5, 55], "nice": false, "zero": false}, "axis": {"orient": "left", "values": [0,10,20,30,40,50], "labelPadding": 5, "title": "P(E) /mol", "titlePadding": -2}},
   "detail": {"field": "t"}}},
 {"data": {"name": "labels"}, "transform": [{"filter": "datum.p === 'c' && datum.k === 'T'"}],
  "mark": {"type": "text", "align": "right", "baseline": "alphabetic", "fontSize": 18},
  "encoding": {
   "x": {"field": "x", "type": "quantitative", "axis": {"orient": "top", "labels": false, "title": null}},
   "y": {"field": "y", "type": "quantitative", "axis": {"orient": "right", "labels": false, "title": null}},
   "text": {"field": "m"}}},
 {"data": {"name": "labels"}, "transform": [{"filter": "datum.p === 'c' && datum.k === 'T'"}], "mark": {"type": "text", "align": "left", "baseline": "alphabetic", "fontSize": 12.5, "dy": 4},
  "encoding": {"x": {"field": "x", "type": "quantitative", "axis": null}, "y": {"field": "y", "type": "quantitative", "axis": null}, "text": {"field": "s"}}},
 {"data": {"name": "labels"}, "transform": [{"filter": "datum.p === 'c' && datum.k === 'T'"}], "mark": {"type": "text", "align": "left", "baseline": "alphabetic", "fontSize": 18, "dx": 8.3},
  "encoding": {"x": {"field": "x", "type": "quantitative", "axis": null}, "y": {"field": "y", "type": "quantitative", "axis": null}, "text": {"field": "r"}}},
 {"data": {"name": "labels"}, "transform": [{"filter": "datum.p === 'c' && datum.k === 'M'"}], "mark": {"type": "text", "align": "right", "baseline": "alphabetic", "fontSize": 20},
  "encoding": {"x": {"field": "x", "type": "quantitative", "axis": null}, "y": {"field": "y", "type": "quantitative", "axis": null}, "text": {"field": "m"}}},
 {"data": {"name": "labels"}, "transform": [{"filter": "datum.p === 'c' && datum.k === 'M'"}], "mark": {"type": "text", "align": "left", "baseline": "alphabetic", "fontSize": 14, "dy": 5},
  "encoding": {"x": {"field": "x", "type": "quantitative", "axis": null}, "y": {"field": "y", "type": "quantitative", "axis": null}, "text": {"field": "s"}}},
 {"data": {"name": "labels"}, "transform": [{"filter": "datum.p === 'c' && datum.k === 'M'"}], "mark": {"type": "text", "align": "left", "baseline": "alphabetic", "fontSize": 20, "dx": 10.1},
  "encoding": {"x": {"field": "x", "type": "quantitative", "axis": null}, "y": {"field": "y", "type": "quantitative", "axis": null}, "text": {"field": "r"}}},
 {"data": {"name": "labels"}, "transform": [{"filter": "datum.p === 'c' && datum.k === 'id'"}], "mark": {"type": "text", "align": "left", "baseline": "alphabetic", "fontSize": 20},
  "encoding": {"x": {"field": "x", "type": "quantitative", "axis": null}, "y": {"field": "y", "type": "quantitative", "axis": null}, "text": {"field": "m"}}},
 {"data": {"name": "ticks"}, "transform": [{"filter": "datum.ax === 'x' && datum.s === 'std' && datum.g === 'M'"}], "mark": {"type": "tick", "orient": "vertical", "size": 12},
  "encoding": {"x": {"field": "v", "type": "quantitative", "axis": null}, "y": {"datum": -3.82, "type": "quantitative", "axis": null}}},
 {"data": {"name": "ticks"}, "transform": [{"filter": "datum.ax === 'x' && datum.s === 'std' && datum.g === 'm'"}], "mark": {"type": "tick", "orient": "vertical", "size": 6},
  "encoding": {"x": {"field": "v", "type": "quantitative", "axis": null}, "y": {"datum": -4.41, "type": "quantitative", "axis": null}}},
 {"data": {"name": "ticks"}, "transform": [{"filter": "datum.ax === 'x' && datum.s === 'std' && datum.g === 'M'"}], "mark": {"type": "tick", "orient": "vertical", "size": 12},
  "encoding": {"x": {"field": "v", "type": "quantitative", "axis": null}, "y": {"datum": 53.82, "type": "quantitative", "axis": null}}},
 {"data": {"name": "ticks"}, "transform": [{"filter": "datum.ax === 'x' && datum.s === 'std' && datum.g === 'm'"}], "mark": {"type": "tick", "orient": "vertical", "size": 6},
  "encoding": {"x": {"field": "v", "type": "quantitative", "axis": null}, "y": {"datum": 54.41, "type": "quantitative", "axis": null}}},
 {"data": {"name": "ticks"}, "transform": [{"filter": "datum.ax === 'y' && datum.g === 'M'"}], "mark": {"type": "tick", "orient": "horizontal", "size": 13},
  "encoding": {"y": {"field": "v", "type": "quantitative", "axis": null}, "x": {"datum": 51.23, "type": "quantitative", "axis": null}}},
 {"data": {"name": "ticks"}, "transform": [{"filter": "datum.ax === 'y' && datum.g === 'm'"}], "mark": {"type": "tick", "orient": "horizontal", "size": 7},
  "encoding": {"y": {"field": "v", "type": "quantitative", "axis": null}, "x": {"datum": 50.66, "type": "quantitative", "axis": null}}},
 {"data": {"name": "ticks"}, "transform": [{"filter": "datum.ax === 'y' && datum.g === 'M'"}], "mark": {"type": "tick", "orient": "horizontal", "size": 13},
  "encoding": {"y": {"field": "v", "type": "quantitative", "axis": null}, "x": {"datum": 118.77, "type": "quantitative", "axis": null}}},
 {"data": {"name": "ticks"}, "transform": [{"filter": "datum.ax === 'y' && datum.g === 'm'"}], "mark": {"type": "tick", "orient": "horizontal", "size": 7},
  "encoding": {"y": {"field": "v", "type": "quantitative", "axis": null}, "x": {"datum": 119.34, "type": "quantitative", "axis": null}}}
]},
{"width": 368, "height": 304, "layer": [
 {"data": {"name": "curves"}, "transform": [{"filter": "datum.p === 'd'"}],
  "mark": {"type": "line", "color": "black", "strokeWidth": 1.8, "interpolate": "monotone", "clip": true},
  "encoding": {
   "x": {"field": "E", "type": "quantitative", "scale": {"domain": [30, 130], "nice": false, "zero": false}, "axis": {"orient": "bottom", "values": [40,60,80,100,120], "labelPadding": 6, "title": "E / kJ mol⁻¹", "titlePadding": 1}},
   "y": {"field": "P", "type": "quantitative", "scale": {"domain": [-5, 55], "nice": false, "zero": false}, "axis": {"orient": "left", "values": [0,10,20,30,40,50], "labelPadding": 5, "title": null}},
   "detail": {"field": "t"}}},
 {"data": {"name": "labels"}, "transform": [{"filter": "datum.p === 'd' && datum.k === 'T'"}],
  "mark": {"type": "text", "align": "right", "baseline": "alphabetic", "fontSize": 18},
  "encoding": {
   "x": {"field": "x", "type": "quantitative", "axis": {"orient": "top", "labels": false, "title": null}},
   "y": {"field": "y", "type": "quantitative", "axis": {"orient": "right", "labels": false, "title": null}},
   "text": {"field": "m"}}},
 {"data": {"name": "labels"}, "transform": [{"filter": "datum.p === 'd' && datum.k === 'T'"}], "mark": {"type": "text", "align": "left", "baseline": "alphabetic", "fontSize": 12.5, "dy": 4},
  "encoding": {"x": {"field": "x", "type": "quantitative", "axis": null}, "y": {"field": "y", "type": "quantitative", "axis": null}, "text": {"field": "s"}}},
 {"data": {"name": "labels"}, "transform": [{"filter": "datum.p === 'd' && datum.k === 'T'"}], "mark": {"type": "text", "align": "left", "baseline": "alphabetic", "fontSize": 18, "dx": 8.3},
  "encoding": {"x": {"field": "x", "type": "quantitative", "axis": null}, "y": {"field": "y", "type": "quantitative", "axis": null}, "text": {"field": "r"}}},
 {"data": {"name": "labels"}, "transform": [{"filter": "datum.p === 'd' && datum.k === 'M'"}], "mark": {"type": "text", "align": "right", "baseline": "alphabetic", "fontSize": 20},
  "encoding": {"x": {"field": "x", "type": "quantitative", "axis": null}, "y": {"field": "y", "type": "quantitative", "axis": null}, "text": {"field": "m"}}},
 {"data": {"name": "labels"}, "transform": [{"filter": "datum.p === 'd' && datum.k === 'M'"}], "mark": {"type": "text", "align": "left", "baseline": "alphabetic", "fontSize": 14, "dy": 5},
  "encoding": {"x": {"field": "x", "type": "quantitative", "axis": null}, "y": {"field": "y", "type": "quantitative", "axis": null}, "text": {"field": "s"}}},
 {"data": {"name": "labels"}, "transform": [{"filter": "datum.p === 'd' && datum.k === 'M'"}], "mark": {"type": "text", "align": "left", "baseline": "alphabetic", "fontSize": 20, "dx": 10.1},
  "encoding": {"x": {"field": "x", "type": "quantitative", "axis": null}, "y": {"field": "y", "type": "quantitative", "axis": null}, "text": {"field": "r"}}},
 {"data": {"name": "labels"}, "transform": [{"filter": "datum.p === 'd' && datum.k === 'id'"}], "mark": {"type": "text", "align": "left", "baseline": "alphabetic", "fontSize": 20},
  "encoding": {"x": {"field": "x", "type": "quantitative", "axis": null}, "y": {"field": "y", "type": "quantitative", "axis": null}, "text": {"field": "m"}}},
 {"data": {"name": "ticks"}, "transform": [{"filter": "datum.ax === 'x' && datum.s === 'd' && datum.g === 'M'"}], "mark": {"type": "tick", "orient": "vertical", "size": 12},
  "encoding": {"x": {"field": "v", "type": "quantitative", "axis": null}, "y": {"datum": -3.82, "type": "quantitative", "axis": null}}},
 {"data": {"name": "ticks"}, "transform": [{"filter": "datum.ax === 'x' && datum.s === 'd' && datum.g === 'm'"}], "mark": {"type": "tick", "orient": "vertical", "size": 6},
  "encoding": {"x": {"field": "v", "type": "quantitative", "axis": null}, "y": {"datum": -4.41, "type": "quantitative", "axis": null}}},
 {"data": {"name": "ticks"}, "transform": [{"filter": "datum.ax === 'x' && datum.s === 'd' && datum.g === 'M'"}], "mark": {"type": "tick", "orient": "vertical", "size": 12},
  "encoding": {"x": {"field": "v", "type": "quantitative", "axis": null}, "y": {"datum": 53.82, "type": "quantitative", "axis": null}}},
 {"data": {"name": "ticks"}, "transform": [{"filter": "datum.ax === 'x' && datum.s === 'd' && datum.g === 'm'"}], "mark": {"type": "tick", "orient": "vertical", "size": 6},
  "encoding": {"x": {"field": "v", "type": "quantitative", "axis": null}, "y": {"datum": 54.41, "type": "quantitative", "axis": null}}},
 {"data": {"name": "ticks"}, "transform": [{"filter": "datum.ax === 'y' && datum.g === 'M'"}], "mark": {"type": "tick", "orient": "horizontal", "size": 13},
  "encoding": {"y": {"field": "v", "type": "quantitative", "axis": null}, "x": {"datum": 31.77, "type": "quantitative", "axis": null}}},
 {"data": {"name": "ticks"}, "transform": [{"filter": "datum.ax === 'y' && datum.g === 'm'"}], "mark": {"type": "tick", "orient": "horizontal", "size": 7},
  "encoding": {"y": {"field": "v", "type": "quantitative", "axis": null}, "x": {"datum": 30.95, "type": "quantitative", "axis": null}}},
 {"data": {"name": "ticks"}, "transform": [{"filter": "datum.ax === 'y' && datum.g === 'M'"}], "mark": {"type": "tick", "orient": "horizontal", "size": 13},
  "encoding": {"y": {"field": "v", "type": "quantitative", "axis": null}, "x": {"datum": 128.23, "type": "quantitative", "axis": null}}},
 {"data": {"name": "ticks"}, "transform": [{"filter": "datum.ax === 'y' && datum.g === 'm'"}], "mark": {"type": "tick", "orient": "horizontal", "size": 7},
  "encoding": {"y": {"field": "v", "type": "quantitative", "axis": null}, "x": {"datum": 129.05, "type": "quantitative", "axis": null}}}
]}
], "spacing": 66, "bounds": "flush"}
]
}
